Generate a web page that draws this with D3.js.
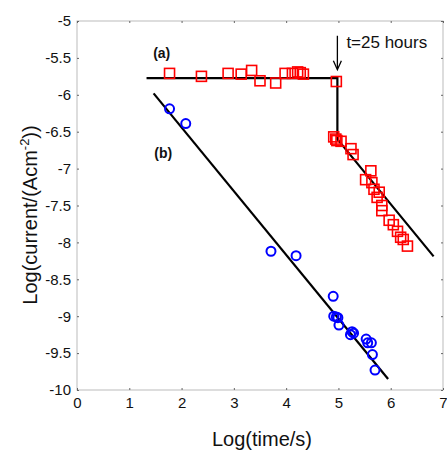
<!DOCTYPE html>
<html lang="en">
<head>
  <meta charset="UTF-8">
  <title>Log current vs log time</title>
  <style>
    body { margin: 0; background: #fff; }
    .tick text { font-family: "Liberation Sans", Arial, sans-serif; font-size: 15px; fill: #111; }
    .frame { fill: none; stroke: #bbb; stroke-width: 1; }
    .fit { fill: none; stroke: #000; stroke-width: 2.2px; }
    .sq { fill: none; stroke: #f00; stroke-width: 1.6px; }
    .ci { fill: none; stroke: #00f; stroke-width: 2px; }
    .lbl { font-family: "Liberation Sans", Arial, sans-serif; fill: #111; }
  </style>
</head>
<body>
<svg id="chart"></svg>
<script src="https://d3js.org/d3.v7.min.js"></script>
<script>
  // series (a): red squares, log(time/s) vs log(current)
  var aX = [1.77, 2.38, 2.89, 3.14, 3.34, 3.50, 3.80, 3.98, 4.12, 4.22, 4.27, 4.33, 4.96,
            4.91, 4.95, 4.97, 5.05, 5.24, 5.28, 5.62, 5.52, 5.64, 5.68, 5.78, 5.74, 5.83, 5.83,
            5.97, 6.05, 6.13, 6.19, 6.24, 6.32];
  var aY = [-5.71, -5.75, -5.71, -5.72, -5.67, -5.81, -5.84, -5.71, -5.71, -5.69, -5.70, -5.72, -5.82,
            -6.57, -6.60, -6.62, -6.63, -6.73, -6.81, -7.03, -7.15, -7.19, -7.28, -7.32, -7.39, -7.50, -7.57,
            -7.70, -7.76, -7.85, -7.93, -7.96, -8.05];
  // series (b): blue circles
  var bX = [1.77, 2.08, 3.71, 4.19, 4.90, 4.91, 4.96, 4.99, 5.01, 5.26, 5.29, 5.23, 5.53, 5.56, 5.63, 5.65, 5.70];
  var bY = [-6.19, -6.39, -8.12, -8.18, -8.73, -9.00, -9.01, -9.02, -9.12, -9.21, -9.23, -9.25, -9.31, -9.36, -9.36, -9.52, -9.73];
  // fitted lines
  var fitAX = [1.33, 4.98, 4.98, 6.82];
  var fitAY = [-5.773, -5.773, -6.60, -8.19];
  var fitBX = [1.465, 5.95];
  var fitBY = [-5.98, -9.85];
  var xTicks = [0, 1, 2, 3, 4, 5, 6, 7];
  var yTicks = [-5, -5.5, -6, -6.5, -7, -7.5, -8, -8.5, -9, -9.5, -10];

  var width = 447, height = 455;
  var mLeft = 77, mTop = 21, mRight = 443, mBottom = 390;

  var svg = d3.select('#chart').attr('width', width).attr('height', height);
  var x = d3.scaleLinear().domain([0, 7]).range([mLeft, mRight]);
  var y = d3.scaleLinear().domain([-10, -5]).range([mBottom, mTop]);

  svg.append('rect').attr('class', 'frame')
    .attr('x', mLeft).attr('y', mTop).attr('width', mRight - mLeft).attr('height', mBottom - mTop);

  // axes with tiny inward ticks
  function styleAxis(g) {
    g.select('.domain').remove();
    g.selectAll('.tick line').attr('stroke', '#666').attr('stroke-width', 1);
  }
  svg.append('g').attr('transform', 'translate(0,' + mBottom + ')')
    .call(d3.axisBottom(x).tickValues(xTicks).tickFormat(d3.format('d')).tickSizeInner(-2).tickPadding(7))
    .call(styleAxis);
  svg.append('g').attr('transform', 'translate(0,' + mTop + ')')
    .call(d3.axisTop(x).tickValues(xTicks).tickSizeInner(-2).tickFormat(''))
    .call(styleAxis);
  svg.append('g').attr('transform', 'translate(' + mLeft + ',0)')
    .call(d3.axisLeft(y).tickValues(yTicks).tickFormat(function(d){ return String(d); }).tickSizeInner(-2).tickPadding(6))
    .call(styleAxis);
  svg.append('g').attr('transform', 'translate(' + mRight + ',0)')
    .call(d3.axisRight(y).tickValues(yTicks).tickSizeInner(-2).tickFormat(''))
    .call(styleAxis);

  var line = d3.line().x(function(d){ return x(d[0]); }).y(function(d){ return y(d[1]); });
  svg.append('path').attr('class', 'fit').attr('d', line(d3.zip(fitAX, fitAY)));
  svg.append('path').attr('class', 'fit').attr('d', line(d3.zip(fitBX, fitBY)));

  var s = 10;
  svg.append('g').selectAll('rect').data(d3.zip(aX, aY)).enter().append('rect')
    .attr('class', 'sq')
    .attr('x', function(d){ return x(d[0]) - s / 2; })
    .attr('y', function(d){ return y(d[1]) - s / 2; })
    .attr('width', s).attr('height', s);

  svg.append('g').selectAll('circle').data(d3.zip(bX, bY)).enter().append('circle')
    .attr('class', 'ci')
    .attr('cx', function(d){ return x(d[0]); })
    .attr('cy', function(d){ return y(d[1]); })
    .attr('r', 4.5);

  // annotations
  svg.append('text').attr('class', 'lbl').attr('x', x(1.62)).attr('y', y(-5.45))
    .attr('text-anchor', 'middle').attr('dominant-baseline', 'middle')
    .style('font-size', '14px').style('font-weight', 'bold').text('(a)');
  svg.append('text').attr('class', 'lbl').attr('x', x(1.65)).attr('y', y(-6.81))
    .attr('text-anchor', 'middle').attr('dominant-baseline', 'middle')
    .style('font-size', '14px').style('font-weight', 'bold').text('(b)');

  var ax = x(4.98);
  svg.append('line').attr('x1', ax).attr('x2', ax).attr('y1', y(-5.2)).attr('y2', y(-5.64))
    .attr('stroke', '#000').attr('stroke-width', 1.3);
  svg.append('path').attr('d', 'M' + (ax - 4) + ',' + (y(-5.66) - 9) + 'L' + ax + ',' + y(-5.66) + 'L' + (ax + 4) + ',' + (y(-5.66) - 9))
    .attr('fill', 'none').attr('stroke', '#000').attr('stroke-width', 1.3);
  svg.append('text').attr('class', 'lbl').attr('x', ax + 9).attr('y', y(-5.36))
    .style('font-size', '17px').text('t=25 hours');

  svg.append('text').attr('class', 'lbl').attr('x', (mLeft + mRight) / 2 + 2).attr('y', 446)
    .attr('text-anchor', 'middle').style('font-size', '20px').text('Log(time/s)');
  var yl = svg.append('text').attr('class', 'lbl')
    .attr('transform', 'translate(37,215) rotate(-90)')
    .attr('text-anchor', 'middle').style('font-size', '20px');
  yl.append('tspan').text('Log(current/(Acm');
  yl.append('tspan').attr('dy', -8).style('font-size', '13px').text('-2');
  yl.append('tspan').attr('dy', 8).text('))');
</script>
</body>
</html>
